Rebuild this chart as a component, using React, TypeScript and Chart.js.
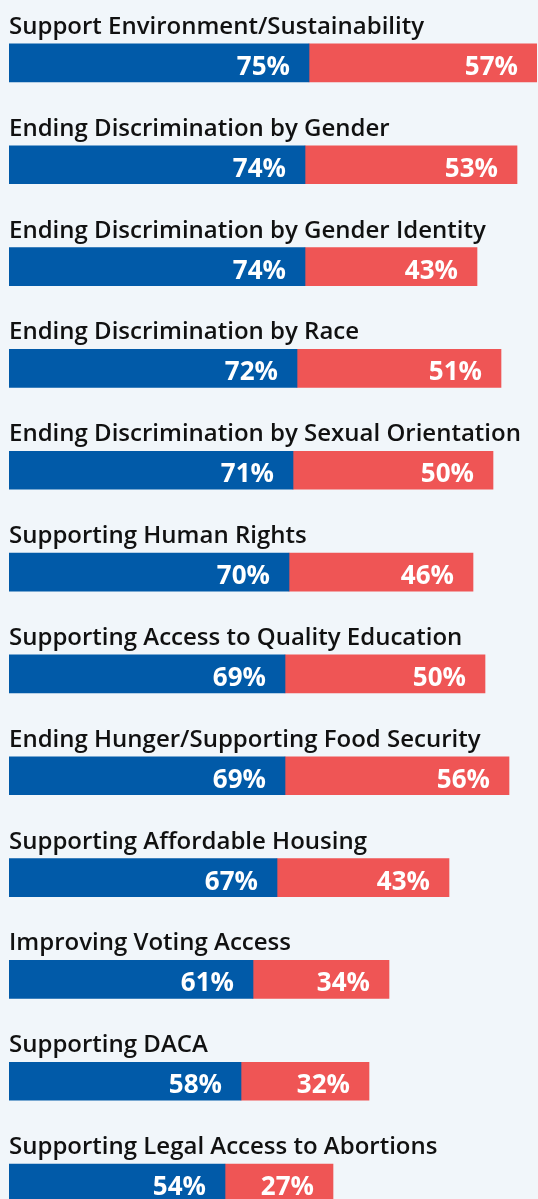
import React, { useEffect, useRef } from "react";
import { Chart, registerables } from "chart.js";

Chart.register(...registerables);

const categories = [
  "Support Environment/Sustainability",
  "Ending Discrimination by Gender",
  "Ending Discrimination by Gender Identity",
  "Ending Discrimination by Race",
  "Ending Discrimination by Sexual Orientation",
  "Supporting Human Rights",
  "Supporting Access to Quality Education",
  "Ending Hunger/Supporting Food Security",
  "Supporting Affordable Housing",
  "Improving Voting Access",
  "Supporting DACA",
  "Supporting Legal Access to Abortions",
];

const blueValues = [75, 74, 74, 72, 71, 70, 69, 69, 67, 61, 58, 54];
const redValues = [57, 53, 43, 51, 50, 46, 50, 56, 43, 34, 32, 27];

const BLUE = "#015AA8";
const RED = "#EF5555";
const BG = "#F1F6FA";

const labelPlugin = {
  id: "labelPlugin",
  afterDatasetsDraw(chart: any) {
    const ctx = chart.ctx;
    ctx.save();
    const meta0 = chart.getDatasetMeta(0);
    meta0.data.forEach((el: any, i: number) => {
      const top = el.y - el.height / 2;
      ctx.font = "600 24px 'Open Sans'";
      ctx.fillStyle = "#111111";
      ctx.textAlign = "left";
      ctx.textBaseline = "alphabetic";
      ctx.fillText(chart.data.labels[i], chart.chartArea.left, top - 10);
    });
    chart.data.datasets.forEach((ds: any, d: number) => {
      const meta = chart.getDatasetMeta(d);
      meta.data.forEach((el: any, i: number) => {
        ctx.font = "bold 26px 'Open Sans'";
        ctx.fillStyle = "#ffffff";
        ctx.textAlign = "right";
        ctx.textBaseline = "alphabetic";
        ctx.fillText(ds.data[i] + "%", el.x - 19, el.y + 12);
      });
    });
    ctx.restore();
  },
};

export default function App() {
  const ref = useRef<HTMLCanvasElement | null>(null);
  useEffect(() => {
    if (!ref.current) return;
    const chart = new Chart(ref.current, {
      type: "bar",
      data: {
        labels: categories,
        datasets: [
          { data: blueValues, backgroundColor: BLUE, barThickness: 38, borderWidth: 0 },
          { data: redValues, backgroundColor: RED, barThickness: 38, borderWidth: 0 },
        ],
      },
      options: {
        indexAxis: "y",
        animation: false,
        responsive: true,
        maintainAspectRatio: false,
        layout: { padding: { left: 9, right: 1, top: 12, bottom: 0 } },
        plugins: { legend: { display: false }, tooltip: { enabled: false } },
        scales: {
          x: { stacked: true, min: 0, max: 132, display: false },
          y: { stacked: true, display: false },
        },
      },
      plugins: [labelPlugin],
    } as any);
    return () => chart.destroy();
  }, []);
  return (
    <div
      style={{
        position: "absolute",
        left: 0,
        top: 0,
        width: 538,
        height: 1199,
        overflow: "hidden",
        background: BG,
      }}
    >
      <div style={{ position: "relative", width: 538, height: 1234 }}>
        <canvas ref={ref} />
      </div>
    </div>
  );
}
